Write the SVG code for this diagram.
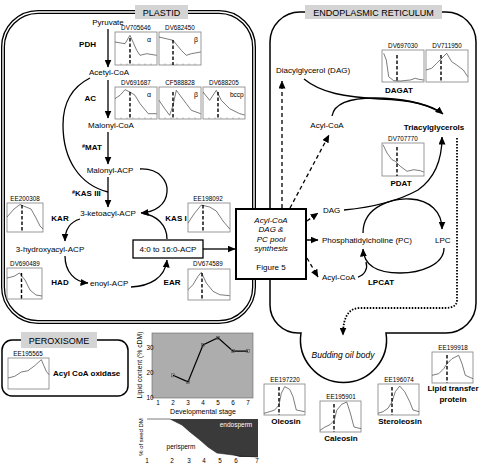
<svg xmlns="http://www.w3.org/2000/svg" width="479" height="465" viewBox="0 0 479 465">
<defs>
<style>
text{font-family:"Liberation Sans",Arial,sans-serif;fill:#000}
.t{font-size:8px}
.b{font-size:8px;font-weight:bold}
.c{text-anchor:middle}
.e{text-anchor:end}
.l{font-size:6.3px;text-anchor:middle}
.tk{font-size:6.3px;text-anchor:middle}
.ttl{font-size:9px;text-anchor:middle}
.gl{fill:#d4d4d4}
.ln{fill:none;stroke:#000;stroke-width:1.3}
.dsh{fill:none;stroke:#000;stroke-width:1.3;stroke-dasharray:4 3}
.box{fill:#fff;stroke:#808080;stroke-width:0.8}
.cv{fill:none;stroke:#444;stroke-width:0.7}
.vd{stroke:#000;stroke-width:1.4;stroke-dasharray:3.5 2}
.tic{stroke:#808080;stroke-width:0.6}
</style>
<marker id="ah" viewBox="0 0 8 7" refX="7.5" refY="3.5" markerWidth="8" markerHeight="7" markerUnits="userSpaceOnUse" orient="auto"><path d="M0,0 L8,3.5 L0,7 z" fill="#000"/></marker>
</defs>
<rect width="479" height="465" fill="#fff"/>

<!-- compartments -->
<g id="plastid">
<rect x="3" y="12" width="251" height="310" rx="35" fill="none" stroke="#000" stroke-width="4"/>
<rect x="3" y="12" width="251" height="310" rx="35" fill="none" stroke="#fff" stroke-width="1.4"/>
<rect class="gl" x="135" y="5" width="53" height="14"/>
<text class="ttl" x="161.5" y="16">PLASTID</text>
</g>
<g id="er">
<path d="M300,12 H446 A30,30 0 0 1 476,42 V303 A30,30 0 0 1 446,333 H386 A43,43 0 1 1 301,333 H298 A28,28 0 0 1 270,305 V42 A30,30 0 0 1 300,12 Z" fill="none" stroke="#000" stroke-width="1.5"/>
<rect class="gl" x="305" y="5" width="137" height="14"/>
<text class="ttl" x="373.5" y="16">ENDOPLASMIC RETICULUM</text>
<text x="343" y="358" font-size="8.5" font-style="italic" text-anchor="middle">Budding oil body</text>
</g>
<g id="peroxisome">
<rect x="2" y="340" width="126" height="56" rx="10" fill="none" stroke="#000" stroke-width="1.5"/>
<rect class="gl" x="21" y="332" width="76" height="16"/>
<text class="ttl" x="59" y="344">PEROXISOME</text>
<text class="b" x="53" y="376" font-size="7.5">Acyl CoA oxidase</text>
</g>

<!-- connectors -->
<g id="connectors">
<path class="ln" d="M108,29 V67" marker-end="url(#ah)"/>
<path class="ln" d="M108,80 V118" marker-end="url(#ah)"/>
<path class="ln" d="M108,132 V164" marker-end="url(#ah)"/>
<path class="ln" d="M108,177 V207" marker-end="url(#ah)"/>
<path class="ln" d="M90,78 C70,88 63,105 63,125 C63,160 80,185 108,192"/>
<path class="ln" d="M140,169 C160,168 168,182 167,192 C166,205 155,212 141,213" marker-end="url(#ah)"/>
<path class="ln" d="M167,239 C167,225 156,215 143,213.5"/>
<path class="ln" d="M80,219 C70,222 65,230 65,241" marker-end="url(#ah)"/>
<path class="ln" d="M65,256 C65,272 75,282 88,283" marker-end="url(#ah)"/>
<path class="ln" d="M131,287 C150,286 165,278 167,260" marker-end="url(#ah)"/>
<path class="ln" d="M203,249 H235" marker-end="url(#ah)"/>
<path class="dsh" d="M282,208 V81" marker-end="url(#ah)"/>
<path class="dsh" d="M290,208 L329,135" marker-end="url(#ah)"/>
<path class="dsh" d="M307,221 L318,213" marker-end="url(#ah)"/>
<path class="dsh" d="M307,240 L318,240" marker-end="url(#ah)"/>
<path class="dsh" d="M307,258 L318,277" marker-end="url(#ah)"/>
<path class="ln" d="M304,79 C321,93 345,97 380,99 C410,100 432,105 443,114" marker-end="url(#ah)"/>
<path class="ln" d="M332,116 C334,104 350,98 375,98 C395,98 420,101 440,112"/>
<path class="ln" d="M344,210 C375,207 400,200 418,190 C435,178 442,160 442,137" marker-end="url(#ah)"/>
<path class="ln" d="M363,233 C363,205 395,198 410,199 C430,200 442,212 442,229" marker-end="url(#ah)"/>
<path class="ln" d="M444,248 C444,265 420,273 400,273 C380,273 364,268 363,249" marker-end="url(#ah)"/>
<path class="ln" d="M358,277 C365,275 368,268 366,262"/>
<path d="M457,138 V300 C457,306 452,308 445,308 H360 C350,308 343,315 343,335" fill="none" stroke="#000" stroke-width="1.8" stroke-dasharray="1.5 1.5" marker-end="url(#ah)"/>
</g>

<!-- metabolite nodes -->
<g id="metabolites">
<text class="t c" x="108" y="25">Pyruvate</text>
<text class="t c" x="109" y="75">Acetyl-CoA</text>
<text class="t c" x="111" y="128">Malonyl-CoA</text>
<text class="t c" x="110" y="173">Malonyl-ACP</text>
<text class="t c" x="108" y="216">3-ketoacyl-ACP</text>
<text class="t c" x="50" y="252">3-hydroxyacyl-ACP</text>
<text class="t" x="90" y="286">enoyl-ACP</text>
<text class="t c" x="313" y="73">Diacylglycerol (DAG)</text>
<text class="t c" x="327" y="128">Acyl-CoA</text>
<text class="b c" x="434" y="130" font-size="9">Triacylglycerols</text>
<text class="t" x="323" y="213">DAG</text>
<text class="t" x="322" y="243">Phosphatidylcholine (PC)</text>
<text class="t" x="435" y="243">LPC</text>
<text class="t" x="322" y="280">Acyl-CoA</text>
</g>
<g id="acp-box">
<rect x="133" y="240" width="70" height="18" fill="#fff" stroke="#000" stroke-width="1.3"/>
<text class="t c" x="168" y="252">4:0 to 16:0-ACP</text>
</g>
<g id="fig5-box">
<rect x="236" y="209" width="70" height="70" fill="#fff" stroke="#000" stroke-width="2"/>
<text class="t c" x="271" y="223" font-style="italic">Acyl-CoA</text>
<text class="t c" x="271" y="232" font-style="italic">DAG &amp;</text>
<text class="t c" x="271" y="242" font-style="italic">PC pool</text>
<text class="t c" x="271" y="251" font-style="italic">synthesis</text>
<text class="t c" x="271" y="270">Figure 5</text>
</g>

<!-- enzyme labels -->
<g id="enzymes">
<text class="b e" x="96" y="47">PDH</text>
<text class="b e" x="96" y="101">AC</text>
<text class="b" x="82" y="150"><tspan font-size="5.5" dy="-2">#</tspan><tspan dy="2">MAT</tspan></text>
<text class="b" x="72" y="196"><tspan font-size="5.5" dy="-2">#</tspan><tspan dy="2">KAS III</tspan></text>
<text class="b c" x="60" y="221">KAR</text>
<text class="b c" x="176" y="221">KAS I</text>
<text class="b c" x="60" y="285">HAD</text>
<text class="b c" x="172" y="285">EAR</text>
<text class="b c" x="399" y="93">DAGAT</text>
<text class="b c" x="401" y="186">PDAT</text>
<text class="b c" x="381" y="285">LPCAT</text>
<text class="b c" x="286" y="424">Oleosin</text>
<text class="b c" x="341" y="441">Caleosin</text>
<text class="b c" x="400" y="424">Steroleosin</text>
<text class="b c" x="453" y="391" font-size="7">Lipid transfer</text>
<text class="b c" x="453" y="402" font-size="7">protein</text>
</g>

<!-- expression plots -->
<g id="p-DV705646">
<text class="l" x="136" y="30">DV705646</text>
<g transform="translate(115,32)"><rect class="box" width="42" height="33"/><path class="tic" d="M6,33v-1.5M12,33v-1.5M18,33v-1.5M24,33v-1.5M30,33v-1.5M36,33v-1.5"/>
<polyline class="cv" points="0,10 10,11.7 15,3.3 21.7,18.3 25,23.3 31.7,21.7 41.7,23.3"/><line class="vd" x1="15" y1="6" x2="15" y2="33"/><text x="32" y="10" font-size="7">α</text></g>
</g>
<g id="p-DV682450">
<text class="l" x="180" y="30">DV682450</text>
<g transform="translate(159,32)"><rect class="box" width="42" height="33"/><path class="tic" d="M6,33v-1.5M12,33v-1.5M18,33v-1.5M24,33v-1.5M30,33v-1.5M36,33v-1.5"/>
<polyline class="cv" points="0,5 14,8.3 22.3,18.3 27.3,23.3 32.3,21.7 41.7,20"/><line class="vd" x1="14" y1="8" x2="14" y2="33"/><text x="35" y="10" font-size="7">β</text></g>
</g>
<g id="p-DV691687">
<text class="l" x="136" y="85">DV691687</text>
<g transform="translate(115,87)"><rect class="box" width="42" height="32"/><path class="tic" d="M6,32v-1.5M12,32v-1.5M18,32v-1.5M24,32v-1.5M30,32v-1.5M36,32v-1.5"/>
<polyline class="cv" points="0,11.7 5,8.3 10,2.7 15,5 20,8.3 25,16.7 33.3,26.7 41.7,26.7"/><line class="vd" x1="15" y1="5" x2="15" y2="32"/><text x="32" y="10" font-size="7">α</text></g>
</g>
<g id="p-CF588828">
<text class="l" x="180" y="85">CF588828</text>
<g transform="translate(159,87)"><rect class="box" width="42" height="32"/><path class="tic" d="M6,32v-1.5M12,32v-1.5M18,32v-1.5M24,32v-1.5M30,32v-1.5M36,32v-1.5"/>
<polyline class="cv" points="0,13.3 5.7,21.7 10.7,28.3 14,18.3 17.3,3.3 22.3,10 27.3,16.7 32.3,23.3 41.7,26.7"/><line class="vd" x1="14" y1="5" x2="14" y2="32"/><text x="35" y="10" font-size="7">β</text></g>
</g>
<g id="p-DV688205">
<text class="l" x="224" y="85">DV688205</text>
<g transform="translate(203,87)"><rect class="box" width="42" height="32"/><path class="tic" d="M6,32v-1.5M12,32v-1.5M18,32v-1.5M24,32v-1.5M30,32v-1.5M36,32v-1.5"/>
<polyline class="cv" points="0,5 6.7,13.3 13.3,3.3 18.3,13.3 26.7,21.7 36.7,26.7 41.7,28"/><line class="vd" x1="15" y1="5" x2="15" y2="32"/><text x="27" y="10" font-size="6.5">bccp</text></g>
</g>
<g id="p-EE200308">
<text class="l" x="25" y="201">EE200308</text>
<g transform="translate(7,203)"><rect class="box" width="36" height="29"/>
<polyline class="cv" points="0,14 7,6 13,1.5 19,4 24,6 29,15 33,23 36,26"/><line class="vd" x1="15" y1="2" x2="15" y2="29"/></g>
</g>
<g id="p-DV690489">
<text class="l" x="25" y="266">DV690489</text>
<g transform="translate(7,268)"><rect class="box" width="35" height="31"/>
<polyline class="cv" points="0,10 7,8.3 12.5,5 18,12 23,22 29,27 35,28"/><line class="vd" x1="14.5" y1="5" x2="14.5" y2="31"/></g>
</g>
<g id="p-EE198092">
<text class="l" x="208" y="201">EE198092</text>
<g transform="translate(188,203)"><rect class="box" width="42" height="29"/>
<polyline class="cv" points="0,20 6.7,10 13.3,2 21.7,4 28.3,8 35,18 41.7,26"/><line class="vd" x1="15" y1="2" x2="15" y2="29"/></g>
</g>
<g id="p-DV674589">
<text class="l" x="208" y="266">DV674589</text>
<g transform="translate(188,269)"><rect class="box" width="42" height="31"/>
<polyline class="cv" points="0,20.7 5,15.7 10,7.3 13.3,3.3 18.3,14 25,22.3 31.7,25.7 41.7,26.7"/><line class="vd" x1="14" y1="4" x2="14" y2="31"/></g>
</g>
<g id="p-DV697030">
<text class="l" x="403" y="48">DV697030</text>
<g transform="translate(382,50)"><rect class="box" width="42" height="32"/>
<polyline class="cv" points="1.7,3.3 4.3,10 6.7,26.7 11.7,30.7 18.3,31 28.3,30 33.3,28.3 36.7,29.3 41.7,30"/><line class="vd" x1="15" y1="5" x2="15" y2="32"/></g>
</g>
<g id="p-DV711950">
<text class="l" x="447" y="48">DV711950</text>
<g transform="translate(426,50)"><rect class="box" width="42" height="32"/>
<polyline class="cv" points="0,20 5.7,18.3 10.7,13.3 15.7,8.3 20.7,3.3 25.7,11.7 30.7,15 37.3,20 41.7,26.7"/><line class="vd" x1="15" y1="5" x2="15" y2="32"/></g>
</g>
<g id="p-DV707770">
<text class="l" x="403" y="141">DV707770</text>
<g transform="translate(382,143)"><rect class="box" width="42" height="33"/>
<polyline class="cv" points="1,1.7 5,10 10,16.7 13.3,18.3 18.3,23.3 25,28.3 31.7,26.7 38.3,27.7 41.7,29"/><line class="vd" x1="15" y1="4" x2="15" y2="33"/></g>
</g>
<g id="p-EE195565">
<text class="l" x="28" y="356">EE195565</text>
<g transform="translate(8,358)"><rect class="box" width="41" height="31"/>
<polyline class="cv" points="0,20 6.7,18.3 13.3,14 20,12.7 26.7,7.7 33.3,1.7 38.3,13.3 41,16.7"/></g>
</g>
<g id="p-EE197220">
<text class="l" x="285" y="382">EE197220</text>
<g transform="translate(264,384)"><rect class="box" width="41" height="31"/>
<polyline class="cv" points="0,29.3 5.7,27.7 10.7,26 15,21 17.3,9.3 20.7,2.7 25.7,5.3 29,12.7 32.3,26 40.7,27.7"/><line class="vd" x1="15" y1="3" x2="15" y2="31"/></g>
</g>
<g id="p-EE195901">
<text class="l" x="341" y="399">EE195901</text>
<g transform="translate(320,401)"><rect class="box" width="41" height="31"/>
<polyline class="cv" points="0,29.3 5,26 10,23.7 14.3,19.3 16.7,9.3 21.7,3.3 26.7,1 30,11 34,26 41,27.7"/><line class="vd" x1="14" y1="3" x2="14" y2="31"/></g>
</g>
<g id="p-EE196074">
<text class="l" x="399" y="382">EE196074</text>
<g transform="translate(378,384)"><rect class="box" width="41" height="31"/>
<polyline class="cv" points="0,29.3 5,27.7 10,24.3 14,17.7 17.3,7.7 21.7,2 26.7,7.7 31.7,17.7 35,26 41,27.7"/><line class="vd" x1="14" y1="3" x2="14" y2="31"/></g>
</g>
<g id="p-EE199918">
<text class="l" x="453" y="350">EE199918</text>
<g transform="translate(432,352)"><rect class="box" width="41" height="31"/>
<polyline class="cv" points="0,23.3 6.7,21.7 11.7,16.7 15,11.7 20,6.7 26.7,3.3 30,11.7 33.3,23.3 41,26.7"/><line class="vd" x1="15" y1="3" x2="15" y2="31"/></g>
</g>

<!-- lipid content chart -->
<g id="chart-lipid">
<rect x="152" y="333" width="101" height="65" fill="#adadad" stroke="#666" stroke-width="0.6"/>
<polyline points="173,375.3 188,381.9 203,345 218,337.8 233,351.1 248,351.1" fill="none" stroke="#000" stroke-width="1.2"/>
<g fill="none" stroke="#555" stroke-width="0.6">
<rect x="171.5" y="373.8" width="3" height="3"/><rect x="186.5" y="380.4" width="3" height="3"/><rect x="201.5" y="343.5" width="3" height="3"/><rect x="216.5" y="336.3" width="3" height="3"/><rect x="231.5" y="349.6" width="3" height="3"/><rect x="246.5" y="349.6" width="3" height="3"/>
</g>
<text class="tk e" x="150" y="349.5" text-anchor="end">30</text>
<text class="tk e" x="150" y="374.5" text-anchor="end">20</text>
<text class="tk e" x="150" y="400" text-anchor="end">10</text>
<text class="tk" x="158" y="405">1</text><text class="tk" x="173" y="405">2</text><text class="tk" x="188" y="405">3</text><text class="tk" x="203" y="405">4</text><text class="tk" x="218" y="405">5</text><text class="tk" x="233" y="405">6</text><text class="tk" x="248" y="405">7</text>
<text x="203" y="414" font-size="7" text-anchor="middle">Developmental stage</text>
<text x="0" y="0" font-size="6.8" text-anchor="middle" transform="translate(142,365) rotate(-90)">Lipid content (% cDM)</text>
</g>

<!-- seed composition chart -->
<g id="chart-seed">
<path d="M170,419 H258 V457 H240 L233,455 L217,453 L208,447 L200,440 L190,432 L182,425 Z" fill="#3a3a3a"/>
<path d="M147,419 H170 L182,425 L190,432 L200,440 L208,447 L217,453 L233,455 L240,456 L258,457" fill="none" stroke="#222" stroke-width="0.6"/>
<text x="236" y="427" font-size="6.5" text-anchor="middle" style="fill:#fff">endosperm</text>
<text x="181" y="449" font-size="6.5" text-anchor="middle">perisperm</text>
<text x="0" y="0" font-size="6" text-anchor="middle" transform="translate(143,437) rotate(-90)">% of seed DM</text>
<text class="tk" x="147" y="463">1</text><text class="tk" x="172" y="463">2</text><text class="tk" x="189" y="463">3</text><text class="tk" x="204" y="463">4</text><text class="tk" x="220" y="463">5</text><text class="tk" x="236" y="463">6</text><text class="tk" x="257" y="463">7</text>
</g>
</svg>
